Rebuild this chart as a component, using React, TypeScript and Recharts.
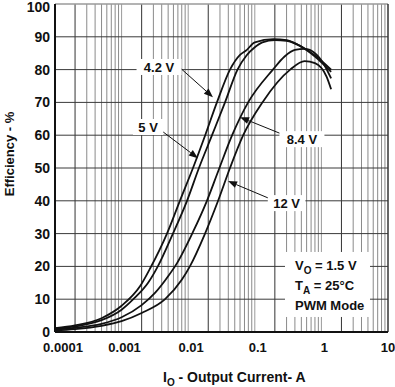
import React from 'react'
import { LineChart, Line, XAxis, YAxis, ReferenceLine, ReferenceDot } from 'recharts'

const FONT = '"Liberation Sans", Arial, Helvetica, sans-serif'
const INK = '#111111'

// axis ticks
const xTicks = [0.0001, 0.001, 0.01, 0.1, 1, 10]
const yTicks = [0, 10, 20, 30, 40, 50, 60, 70, 80, 90, 100]

// VI = 4.2 V
const current42 = [0.0001, 0.0002, 0.0005, 0.001, 0.0019, 0.0027, 0.0048, 0.0075, 0.0118, 0.018, 0.027, 0.0424, 0.06, 0.074, 0.1, 0.19, 0.3, 0.47, 0.8, 1.4]
const eff42 = [1.2, 2.0, 4.2, 8, 14, 19.5, 30, 40, 50, 60, 70, 80, 84.5, 85.8, 88.3, 89.3, 89, 87.3, 84.3, 80]

// VI = 5 V
const current5 = [0.0001, 0.0002, 0.0005, 0.001, 0.0015, 0.0025, 0.0035, 0.0059, 0.0096, 0.0145, 0.0228, 0.0357, 0.055, 0.075, 0.1, 0.13, 0.2, 0.3, 0.47, 0.8, 1.4]
const eff5 = [1.0, 1.7, 3.6, 6.8, 10, 15, 20, 30, 40, 50, 60, 70, 80, 84.3, 86.8, 88.3, 89, 88.8, 87.3, 84, 79.3]

// VI = 8.4 V
const current84 = [0.0001, 0.0002, 0.0005, 0.001, 0.002, 0.0032, 0.005, 0.0068, 0.0118, 0.0191, 0.0282, 0.0457, 0.0794, 0.187, 0.28, 0.4, 0.56, 0.8, 1.1, 1.4]
const eff84 = [0.8, 1.3, 2.5, 4.5, 8.2, 12, 17, 21, 30.5, 40, 49, 60, 70, 80, 84, 86, 86.3, 85, 81.5, 77.3]

// VI = 12 V
const current12 = [0.0001, 0.0002, 0.0005, 0.001, 0.002, 0.0045, 0.008, 0.0106, 0.0179, 0.0281, 0.0424, 0.067, 0.13, 0.34, 0.56, 0.8, 1.2, 1.4]
const eff12 = [0.5, 0.9, 1.9, 3.3, 5.8, 10, 15.9, 20, 30, 40, 50, 60, 70, 80, 82.6, 82, 77.8, 74]

const toPoints = (xs: number[], ys: number[]) => xs.map((x, i) => ({ x, y: ys[i] }))

const series = [
  { name: '4.2 V', data: toPoints(current42, eff42) },
  { name: '5 V', data: toPoints(current5, eff5) },
  { name: '8.4 V', data: toPoints(current84, eff84) },
  { name: '12 V', data: toPoints(current12, eff12) },
]

// callouts: label position, line start, arrow tip (data coords)
const callouts = [
  { text: '4.2 V', label: [0.00365, 80.8], from: [0.0076, 80.5], to: [0.0235, 71.6] },
  { text: '5 V', label: [0.0025, 62.5], from: [0.0042, 61], to: [0.014, 53] },
  { text: '8.4 V', label: [0.51, 58.8], from: [0.28, 60], to: [0.06, 65.5] },
  { text: '12 V', label: [0.3, 39.3], from: [0.175, 40.5], to: [0.0396, 46] },
]

// vertical grid: 1..9 per decade
const gridX: { v: number; m: number }[] = []
for (let d = -4; d <= 0; d++) {
  for (let m = 1; m <= 9; m++) gridX.push({ v: m * Math.pow(10, d), m })
}

const textStyle = { fontFamily: FONT, fontWeight: 700, fill: INK }

const XTick = (props: any) => {
  const { x, y, payload } = props
  const v = payload.value
  const dx = v === 0.0001 ? 8 : v === 10 ? 0 : 3
  return (
    <text x={x + dx} y={y + 20} textAnchor="middle" fontSize={13} {...textStyle}>
      {String(v)}
    </text>
  )
}

const YTick = (props: any) => {
  const { x, y, payload } = props
  const dy = payload.value === 100 ? 3 : 0
  return (
    <text x={x} y={y + dy + 5} textAnchor="end" fontSize={14} {...textStyle}>
      {String(payload.value)}
    </text>
  )
}

const Arrow = (props: any) => {
  const { x1, y1, x2, y2 } = props
  const a = Math.atan2(y2 - y1, x2 - x1)
  const len = 9
  const hw = 3.5
  const bx = x2 - len * Math.cos(a)
  const by = y2 - len * Math.sin(a)
  const px = -Math.sin(a) * hw
  const py = Math.cos(a) * hw
  return (
    <g>
      <line x1={x1} y1={y1} x2={bx} y2={by} stroke={INK} strokeWidth={1} />
      <polygon points={`${x2},${y2} ${bx + px},${by + py} ${bx - px},${by - py}`} fill={INK} />
    </g>
  )
}

const calloutLabel = (text: string) => (props: any) => {
  const { cx, cy } = props
  const w = text.length * 7.4 + 8
  return (
    <g>
      <rect x={cx - w / 2} y={cy - 8} width={w} height={16} fill="#ffffff" />
      <text x={cx} y={cy + 4.6} textAnchor="middle" fontSize={13} {...textStyle}>
        {text}
      </text>
    </g>
  )
}

// anchored at the box's top-left corner
const ConditionsBox = (props: any) => {
  const { cx, cy } = props
  const tx = cx + 10
  return (
    <g>
      <rect x={cx} y={cy} width={85} height={65} fill="#ffffff" />
      <text x={tx} y={cy + 18} fontSize={13} {...textStyle}>
        V<tspan fontSize={10} dy={4}>O</tspan><tspan dy={-4}> = 1.5 V</tspan>
      </text>
      <text x={tx} y={cy + 38} fontSize={13} {...textStyle}>
        T<tspan fontSize={10} dy={4}>A</tspan><tspan dy={-4}> = 25°C</tspan>
      </text>
      <text x={tx} y={cy + 58} fontSize={13} {...textStyle}>
        PWM Mode
      </text>
    </g>
  )
}

const XTitle = (props: any) => {
  const vb = props.viewBox || { x: 55, y: 332 }
  return (
    <text x={vb.x + 108} y={vb.y + 50} fontSize={14} {...textStyle}>
      I<tspan fontSize={10} dy={4}>O</tspan><tspan dy={-4}> - Output Current- A</tspan>
    </text>
  )
}

const YTitle = () => (
  <text x={9} y={154} transform="rotate(-90, 9, 154)" textAnchor="middle" dominantBaseline="central" fontSize={13} {...textStyle}>
    Efficiency - %
  </text>
)

export default function App() {
  return (
    <div style={{ width: 395, height: 387 }}>
      <style>{'body{margin:0;background:#fff}'}</style>
      <LineChart width={395} height={387} margin={{ top: 4, right: 7, bottom: 0, left: 0 }}>
        <XAxis
          type="number"
          dataKey="x"
          scale="log"
          domain={[0.0001, 10]}
          allowDataOverflow
          ticks={xTicks}
          interval={0}
          tickLine={false}
          tickSize={0}
          tickMargin={0}
          height={55}
          axisLine={false}
          tick={XTick}
          label={XTitle}
        />
        <YAxis
          type="number"
          dataKey="y"
          domain={[0, 100]}
          ticks={yTicks}
          interval={0}
          width={55}
          tickLine={false}
          tickSize={0}
          tickMargin={5}
          axisLine={false}
          tick={YTick}
          label={YTitle}
        />

        {gridX.map((g) => (
          <ReferenceLine
            key={'gx' + g.v}
            x={g.v}
            stroke={g.m === 2 ? '#333333' : g.m === 1 ? '#9a9a9a' : '#8a8a8a'}
            strokeWidth={1}
          />
        ))}
        {yTicks.slice(1, -1).map((v) => (
          <ReferenceLine key={'gy' + v} y={v} stroke="#3a3a3a" strokeWidth={1} />
        ))}
        <ReferenceLine y={100} stroke="#9a9a9a" strokeWidth={1.5} />
        <ReferenceLine x={10} stroke="#333333" strokeWidth={1.5} />
        <ReferenceLine x={0.0001} stroke={INK} strokeWidth={2} />
        <ReferenceLine y={0} stroke={INK} strokeWidth={2} />

        {series.map((s) => (
          <Line
            key={s.name}
            data={s.data}
            dataKey="y"
            type="monotone"
            stroke={INK}
            strokeWidth={1.8}
            dot={false}
            activeDot={false}
            isAnimationActive={false}
          />
        ))}

        {callouts.map((c) => (
          <ReferenceLine
            key={'ar' + c.text}
            segment={[{ x: c.from[0], y: c.from[1] }, { x: c.to[0], y: c.to[1] }]}
            shape={Arrow}
          />
        ))}
        {callouts.map((c) => (
          <ReferenceDot key={'lb' + c.text} x={c.label[0]} y={c.label[1]} shape={calloutLabel(c.text)} />
        ))}
        <ReferenceDot x={0.284} y={24.4} shape={ConditionsBox} />
      </LineChart>
    </div>
  )
}
